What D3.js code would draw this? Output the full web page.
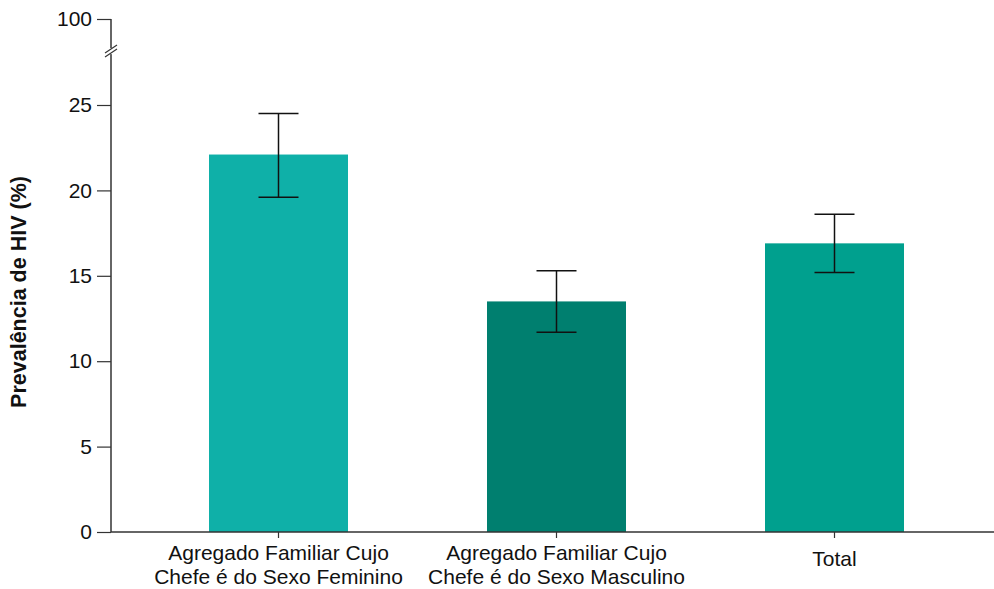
<!DOCTYPE html>
<html>
<head>
<meta charset="utf-8">
<script src="https://cdn.jsdelivr.net/npm/d3@7"></script>
<style>
  body { margin: 0; background: #fff; }
  svg { display: block; }
</style>
</head>
<body>
<script>
// Données
const categories = [
  ["Agregado Familiar Cujo", "Chefe é do Sexo Feminino"],
  ["Agregado Familiar Cujo", "Chefe é do Sexo Masculino"],
  ["Total"]
];
const values = [22.1, 13.5, 16.9];
const lower = [19.6, 11.7, 15.2];
const upper = [24.5, 15.3, 18.6];
const colors = ["#0fb0a8", "#007f6f", "#00a08e"];
const yTicks = [0, 5, 10, 15, 20, 25, 100];

const width = 994, height = 589;
const margin = { top: 19, right: 0, bottom: 57, left: 111 };
const font = "Arial, 'Liberation Sans', sans-serif";

const svg = d3.select("body").append("svg")
  .attr("width", width)
  .attr("height", height)
  .style("font-family", font);

const data = categories.map((c, i) => ({
  i, label: c, value: values[i], lo: lower[i], hi: upper[i], color: colors[i]
}));

// Échelle horizontale
const x = d3.scaleBand()
  .domain(data.map(d => d.i))
  .range([139.5, 973.5])
  .paddingInner(0.5)
  .paddingOuter(0.25);

// Échelle verticale avec coupure entre 25 et 100
const y = d3.scaleLinear()
  .domain([0, 25, 100])
  .range([height - margin.bottom, 105, margin.top]);

// Barres
svg.append("g")
  .selectAll("rect")
  .data(data)
  .join("rect")
  .attr("x", d => x(d.i))
  .attr("y", d => y(d.value))
  .attr("width", x.bandwidth())
  .attr("height", d => y(0) - y(d.value))
  .attr("fill", d => d.color);

// Barres d'erreur
const err = svg.append("g")
  .attr("stroke", "#111")
  .attr("stroke-width", 1.5)
  .selectAll("g")
  .data(data)
  .join("g")
  .attr("transform", d => `translate(${x(d.i) + x.bandwidth() / 2},0)`);
err.append("line").attr("y1", d => y(d.lo)).attr("y2", d => y(d.hi));
err.append("line").attr("x1", -20).attr("x2", 20)
  .attr("y1", d => y(d.hi)).attr("y2", d => y(d.hi));
err.append("line").attr("x1", -20).attr("x2", 20)
  .attr("y1", d => y(d.lo)).attr("y2", d => y(d.lo));

// Axe horizontal
const xAxis = svg.append("g")
  .attr("transform", `translate(0,${y(0)})`);
xAxis.append("line")
  .attr("x1", margin.left).attr("x2", width)
  .attr("stroke", "#333").attr("stroke-width", 1.5);
xAxis.selectAll(".tick")
  .data(data)
  .join("line")
  .attr("x1", d => x(d.i) + x.bandwidth() / 2)
  .attr("x2", d => x(d.i) + x.bandwidth() / 2)
  .attr("y1", 0).attr("y2", 6)
  .attr("stroke", "#333").attr("stroke-width", 1.2);
xAxis.selectAll("text")
  .data(data)
  .join("text")
  .attr("text-anchor", "middle")
  .attr("font-size", 21)
  .attr("fill", "#111")
  .attr("transform", d => `translate(${x(d.i) + x.bandwidth() / 2},${d.label.length === 1 ? 6 : 0})`)
  .selectAll("tspan")
  .data(d => d.label)
  .join("tspan")
  .attr("x", 0)
  .attr("y", (t, j) => 28 + j * 24)
  .text(t => t);

// Axe vertical
const yAxis = svg.append("g")
  .attr("transform", `translate(${margin.left},0)`)
  .call(d3.axisLeft(y).tickValues(yTicks).tickSize(14).tickPadding(5))
  .call(g => g.select(".domain").remove());
yAxis.selectAll(".tick line").attr("stroke", "#333").attr("stroke-width", 1.2);
yAxis.selectAll(".tick text")
  .attr("font-size", 21)
  .attr("font-family", font)
  .attr("fill", "#111");
yAxis.append("line")
  .attr("y1", y(0)).attr("y2", y(100))
  .attr("stroke", "#333").attr("stroke-width", 1.5);

// Coupure de l'axe
const yb = y(72);
const brk = yAxis.append("g").attr("transform", `translate(0,${yb})`);
brk.append("rect").attr("x", -6).attr("y", -3).attr("width", 12).attr("height", 6).attr("fill", "#fff");
[-2, 2].forEach(o => brk.append("line")
  .attr("x1", -6).attr("y1", o + 4)
  .attr("x2", 6).attr("y2", o - 4)
  .attr("stroke", "#333").attr("stroke-width", 1.2));

// Titre de l'axe vertical
svg.append("text")
  .attr("transform", `translate(26,292) rotate(-90)`)
  .attr("text-anchor", "middle")
  .attr("font-size", 21.5)
  .attr("font-weight", "bold")
  .attr("fill", "#111")
  .text("Prevalência de HIV (%)");
</script>
</body>
</html>
